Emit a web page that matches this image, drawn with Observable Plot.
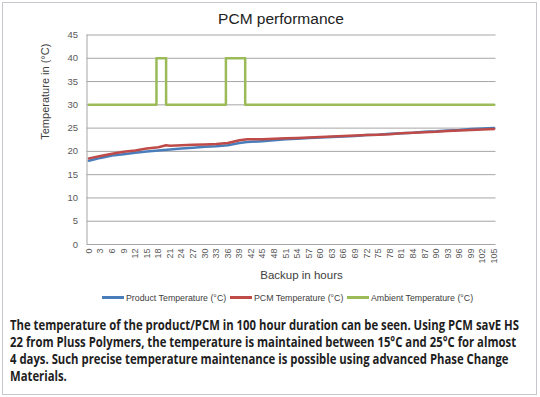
<!DOCTYPE html>
<html>
<head>
<meta charset="utf-8">
<script src="https://cdn.jsdelivr.net/npm/d3@7"></script>
<script src="https://cdn.jsdelivr.net/npm/@observablehq/plot@0.6"></script>
<style>
  html, body { margin: 0; padding: 0; background: #fff; }
  #wrap { position: relative; width: 540px; height: 397px; overflow: hidden; font-family: "Liberation Sans", Arial, sans-serif; }
  #frame { position: absolute; left: 2px; top: 2px; width: 533px; height: 391px; border: 1.5px solid #c4c7cc; }
  #title { position: absolute; left: 0; width: 562px; top: 10px; text-align: center; font-size: 15.5px; color: #222; }
  #chart { position: absolute; left: 0; top: 0; }
  #legend { position: absolute; top: 293px; left: 0; width: 540px; height: 14px; font-size: 8.8px; color: #404040; white-space: nowrap; }
  #legend .item { position: absolute; top: 0; white-space: nowrap; }
  #legend .sw { display: inline-block; width: 22px; height: 2.5px; vertical-align: middle; margin-right: 2px; position: relative; top: -1px; }
  #caption { position: absolute; left: 10px; top: 317px; font-family: "Open Sans", sans-serif; font-weight: bold; font-size: 13.5px; line-height: 17px; color: #1e1e1e; white-space: nowrap; transform-origin: 0 0; }
  #caption div { display: block; width: max-content; height: 17px; }
</style>
</head>
<body>
<div id="wrap">
  <div id="frame"></div>
  <div id="chart"></div>
  <div id="title"></div>
  <div id="legend"></div>
  <div id="caption"></div>
</div>
<script>
// ---- data ----
const xTickLabels = [0,3,6,9,12,15,18,21,24,27,30,33,36,39,42,45,48,51,54,57,60,63,66,69,72,75,78,81,84,87,90,93,96,99,102,105];
const yTickLabels = [0,5,10,15,20,25,30,35,40,45];

const productHours = [0,3,6,9,12,15,18,21,24,27,30,33,36,39,41,45,48,51,54,57,60,63,66,69,72,75,78,81,84,87,90,93,96,99,102,105];
const productTemp  = [18.0,18.6,19.1,19.4,19.7,20.0,20.2,20.4,20.6,20.8,21.0,21.1,21.3,21.8,22.0,22.2,22.4,22.6,22.7,22.9,23.0,23.1,23.2,23.3,23.5,23.6,23.8,23.9,24.0,24.2,24.3,24.5,24.6,24.8,24.9,25.0];

const pcmHours = [0,3,6,9,12,15,18,20,21,24,27,30,33,36,39,41,42,45,48,51,54,57,60,63,66,69,72,75,78,81,84,87,90,93,96,99,102,105];
const pcmTemp  = [18.5,19.0,19.5,19.9,20.2,20.6,20.9,21.3,21.2,21.3,21.4,21.5,21.6,21.8,22.4,22.6,22.6,22.6,22.7,22.8,22.9,23.0,23.1,23.2,23.3,23.4,23.5,23.6,23.7,23.9,24.0,24.1,24.2,24.4,24.5,24.6,24.7,24.8];

const ambientHours = [0,17.5,17.5,20,20,35.5,35.5,40.5,40.5,105];
const ambientTemp  = [30,30,40,40,30,30,40,40,30,30];

const seriesNames  = ["Product Temperature (°C)", "PCM Temperature (°C)", "Ambient Temperature (°C)"];
const seriesColors = ["#4a7ebb", "#be4b48", "#9bbb59"];

const chartTitle = "PCM performance";
const xTitle = "Backup in hours";
const yTitle = "Temperature in (°C)";
const captionLines = [
  "The temperature of the product/PCM in 100 hour duration can be seen. Using PCM savE HS",
  "22 from Pluss Polymers, the temperature is maintained between 15°C and 25°C for almost",
  "4 days. Such precise temperature maintenance is possible using advanced Phase Change",
  "Materials."
];

// ---- build tables ----
const product = productHours.map((h, i) => ({h, t: productTemp[i]}));
const pcm = pcmHours.map((h, i) => ({h, t: pcmTemp[i]}));
const ambient = ambientHours.map((h, i) => ({h, t: ambientTemp[i]}));

const chart = Plot.plot({
  width: 540,
  height: 285,
  marginTop: 34.5,
  marginBottom: 41,
  marginLeft: 86.5,
  marginRight: 44.5,
  style: { fontFamily: "Liberation Sans, Arial, sans-serif", background: "transparent" },
  x: { type: "linear", domain: [-0.5, 105.5] },
  y: { domain: [0, 45] },
  marks: [
    Plot.ruleY(yTickLabels, { stroke: "#a6a6a6", strokeWidth: 1 }),
    Plot.ruleX([-0.5], { stroke: "#a6a6a6", strokeWidth: 1 }),
    Plot.line(ambient, { x: "h", y: "t", stroke: seriesColors[2], strokeWidth: 2.5, curve: "linear" }),
    Plot.line(product, { x: "h", y: "t", stroke: seriesColors[0], strokeWidth: 2.5 }),
    Plot.line(pcm, { x: "h", y: "t", stroke: seriesColors[1], strokeWidth: 2.5 }),
    Plot.axisY(yTickLabels, { tickSize: 0, tickPadding: 9, fontSize: 9.5, color: "#595959", label: null }),
    Plot.axisX(xTickLabels, { tickSize: 0, tickPadding: 4, tickRotate: -90, fontSize: 9, color: "#595959", label: null }),
    Plot.text([xTitle], { frameAnchor: "bottom", dy: 34, dx: 10, fontSize: 11.5, fill: "#404040" }),
    Plot.text([yTitle], { frameAnchor: "left", rotate: -90, dx: -41.5, fontSize: 11, fill: "#404040" })
  ]
});
document.getElementById("chart").appendChild(chart);
document.getElementById("title").textContent = chartTitle;

// legend: items placed at their positions
const legendX = [102, 230, 347];
const legend = document.getElementById("legend");
seriesNames.forEach((n, i) => {
  const item = document.createElement("span");
  item.className = "item";
  item.style.left = legendX[i] + "px";
  const sw = document.createElement("span");
  sw.className = "sw";
  sw.style.background = seriesColors[i];
  item.appendChild(sw);
  item.appendChild(document.createTextNode(n));
  legend.appendChild(item);
});

// caption: condensed to match the reference width
const cap = document.getElementById("caption");
captionLines.forEach(l => { const d = document.createElement("div"); d.textContent = l; cap.appendChild(d); });
const w = cap.firstChild.getBoundingClientRect().width;
const s = 509 / w;
cap.style.transform = `scaleX(${s})`;
</script>
</body>
</html>
